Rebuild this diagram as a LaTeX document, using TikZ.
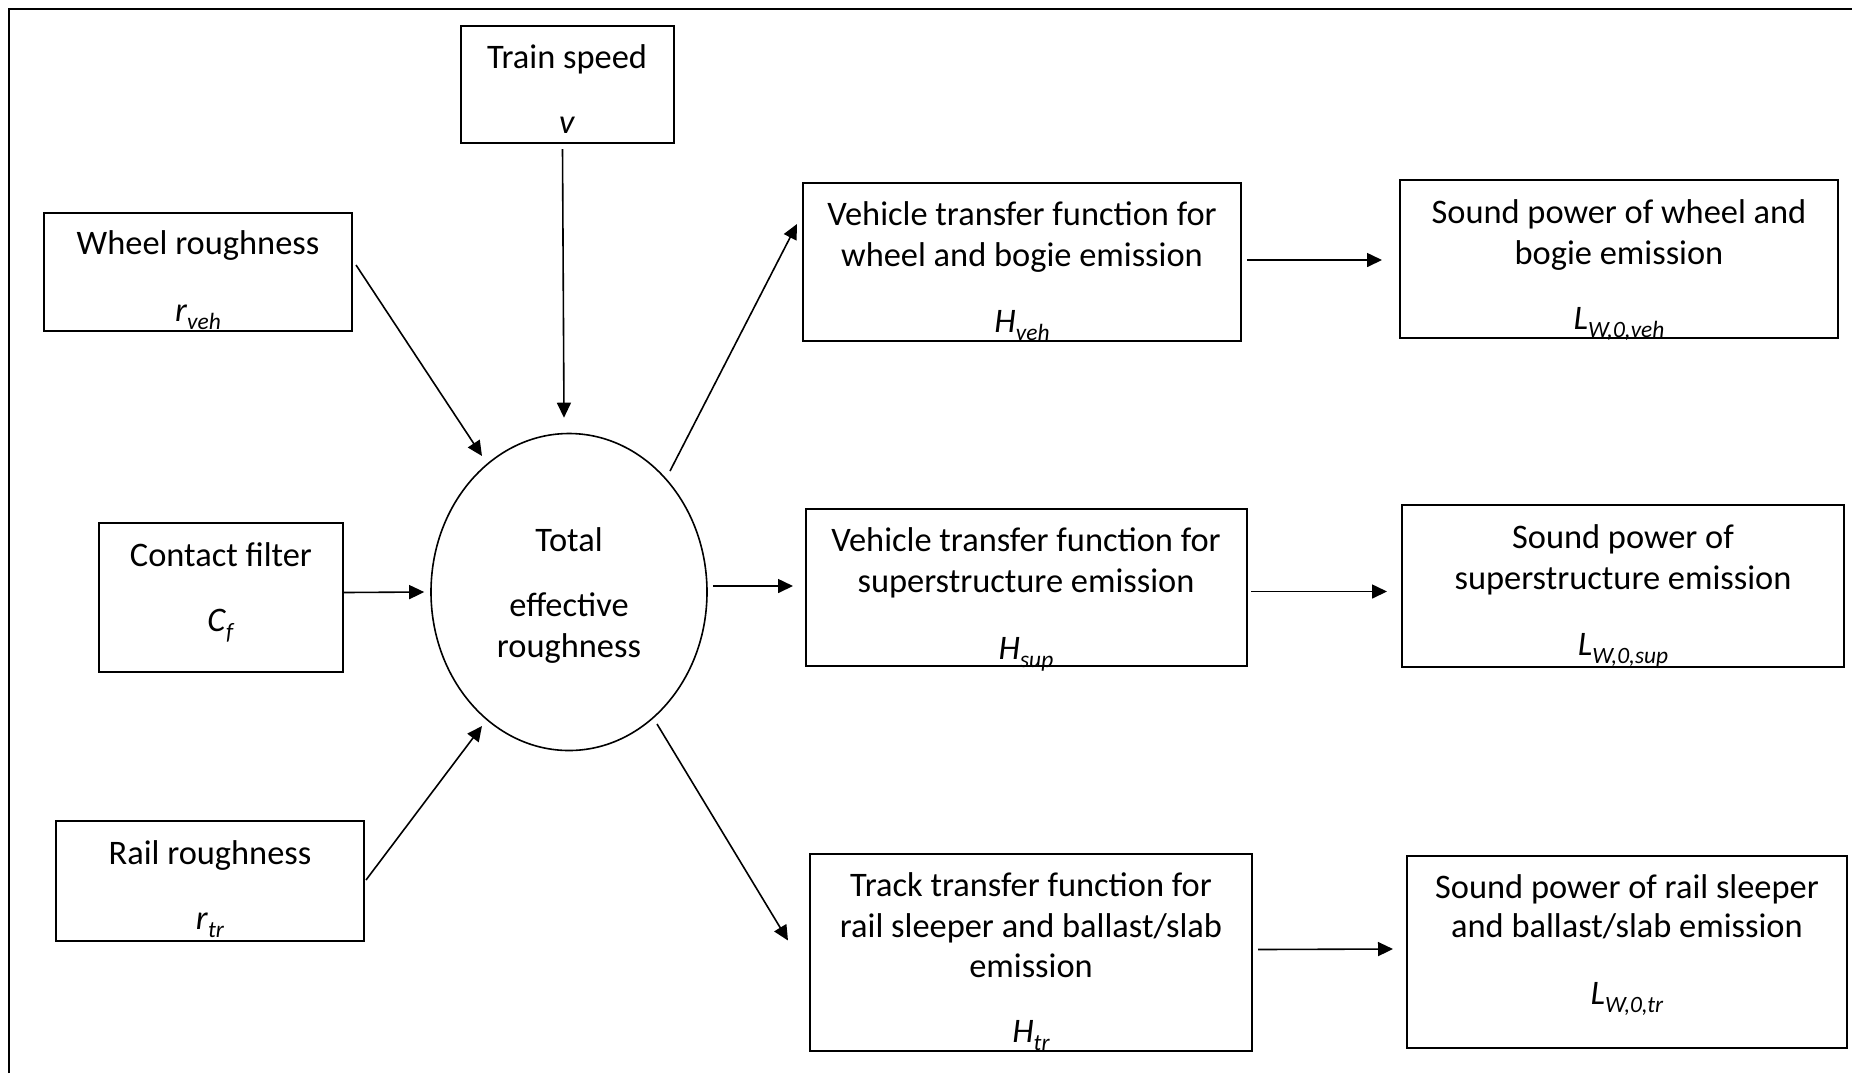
\documentclass[tikz,border=0pt]{standalone}
\usepackage{fontspec}
\setmainfont{Carlito}
\usetikzlibrary{arrows.meta,shapes.geometric,calc,fit}
\newcommand\symb[2]{\textit{#1}\raisebox{-4.2pt}{\fontsize{11.7}{12}\selectfont\textit{#2}}}
\begin{document}
\begin{tikzpicture}[x=0.5pt,y=-0.5pt,
  box/.style={draw, line width=1pt, inner sep=0pt},
  txt/.style={anchor=base, inner sep=0pt, font=\fontsize{17.2}{20}\selectfont},
  arr/.style={-{Triangle[length=7.5pt,width=7pt]}, line width=0.8pt}]
\useasboundingbox (0,0) rectangle (1852,1073);
\fill[white] (0,0) rectangle (1852,1073);
% frame
\draw[line width=1.2pt] (9,1073) -- (9,9) -- (1852,9);

% boxes
\node[box, fit={(461,26) (674,143)}] (ts) {};
\node[box, fit={(44,213) (352,331)}] (wr) {};
\node[box, fit={(99,523) (343,672)}] (cf) {};
\node[box, fit={(56,821) (364,941)}] (rr) {};
\node[draw, ellipse, line width=0.8pt, minimum width=138pt, minimum height=158.5pt, inner sep=0pt] (ell) at (569,592) {};
\node[box, fit={(803,183) (1241,341)}] (hv) {};
\node[box, fit={(806,509) (1247,666)}] (hs) {};
\node[box, fit={(810,854) (1252,1051)}] (ht) {};
\node[box, fit={(1400,180) (1838,338)}] (lv) {};
\node[box, fit={(1402,505) (1844,667)}] (ls) {};
\node[box, fit={(1407,856) (1847,1048)}] (lt) {};

% texts
\node[txt] (ts1) at (567,68) {Train speed};
\node[txt] (ts2) at (567,133) {\textit{v}};
\node[txt] (wr1) at (198,254) {Wheel roughness};
\node[txt] (wr2) at (198,321) {\symb{r}{veh}};
\node[txt] (cf1) at (221,566) {Contact filter};
\node[txt] (cf2) at (221,631) {\symb{C}{f}};
\node[txt] (rr1) at (210,864) {Rail roughness};
\node[txt] (rr2) at (210,929) {\symb{r}{tr}};
\node[txt] (el1) at (569,551) {Total};
\node[txt] (el2) at (569,616) {effective};
\node[txt] (el3) at (569,657) {roughness};
\node[txt] (hv1) at (1022,225) {Vehicle transfer function for};
\node[txt] (hv2) at (1022,266) {wheel and bogie emission};
\node[txt] (hv3) at (1022,332) {\symb{H}{veh}};
\node[txt] (hs1) at (1026,551) {Vehicle transfer function for};
\node[txt] (hs2) at (1026,592) {superstructure emission};
\node[txt] (hs3) at (1026,659) {\symb{H}{sup}};
\node[txt] (ht1) at (1031,896) {Track transfer function for};
\node[txt] (ht2) at (1031,937) {rail sleeper and ballast/slab};
\node[txt] (ht3) at (1031,977) {emission};
\node[txt] (ht4) at (1031,1042) {\symb{H}{tr}};
\node[txt] (lv1) at (1619,223) {Sound power of wheel and};
\node[txt] (lv2) at (1619,264) {bogie emission};
\node[txt] (lv3) at (1619,329) {\symb{L}{W,0,veh}};
\node[txt] (ls1) at (1623,548) {Sound power of};
\node[txt] (ls2) at (1623,589) {superstructure emission};
\node[txt] (ls3) at (1623,655) {\symb{L}{W,0,sup}};
\node[txt] (lt1) at (1627,898) {Sound power of rail sleeper};
\node[txt] (lt2) at (1627,937) {and ballast/slab emission};
\node[txt] (lt3) at (1627,1004) {\symb{L}{W,0,tr}};

% connectors
\draw[arr] ($(ts.south)+(-5,5)$) -- ($(ell.north)+(-5,-15)$);
\draw[arr] ($(wr.east)+(3,-7)$) -- ($(ell.center)+(-87,-136)$);
\draw[arr] ($(cf.east)+(0,-5)$) -- ($(ell.west)+(-6,0)$);
\draw[arr] ($(rr.east)+(1,-1)$) -- ($(ell.center)+(-87,134)$);
\draw[arr] ($(ell.center)+(101,-121)$) -- ($(hv.west)+(-5,-38)$);
\draw[arr] ($(ell.east)+(5,-6)$) -- ($(hs.west)+(-12,-1.5)$);
\draw[arr] ($(ell.center)+(88,132)$) -- ($(ht.west)+(-21,-12)$);
\draw[arr] ($(hv.east)+(5,-2)$) -- ($(lv.west)+(-17,1)$);
\draw[arr] ($(hs.east)+(3,4)$) -- ($(ls.west)+(-14,5.5)$);
\draw[arr] ($(ht.east)+(5,-3)$) -- ($(lt.west)+(-13,-3)$);
\end{tikzpicture}
\end{document}
